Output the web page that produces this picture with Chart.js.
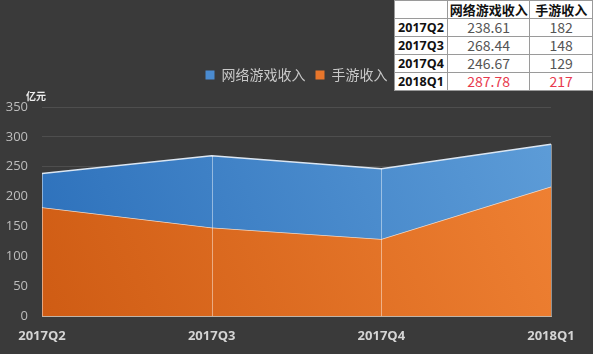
<!DOCTYPE html>
<html>
<head>
<meta charset="utf-8">
<script src="https://cdn.jsdelivr.net/npm/chart.js@4.4.0/dist/chart.umd.min.js"></script>
<style>
  body { margin: 0; background: #3a3a3a; }
  #wrap { position: relative; width: 593px; height: 354px; background: #3a3a3a; overflow: hidden; }
  #tbl { position: absolute; left: 394px; top: 0; border-collapse: collapse; background: #fff;
         font-family: "Noto Sans CJK SC", "Open Sans", sans-serif; }
  #tbl td { border: 1px solid #9a9a9a; height: 17px; padding: 0; text-align: center;
            font-size: 14px; color: #555; line-height: 17px; }
  #tbl tr:first-child td { font-weight: bold; color: #111; font-size: 13px; }
  #tbl td.lab { font-weight: bold; color: #111; font-size: 12.5px; font-family: "Open Sans", sans-serif; }
  #tbl tr.hl td.v { color: #e8394d; }
</style>
</head>
<body>
<div id="wrap">
  <canvas id="c" width="593" height="354"></canvas>
  <table id="tbl"></table>
</div>
<script>
const quarters = ["2017Q2", "2017Q3", "2017Q4", "2018Q1"];
const onlineGame = [238.61, 268.44, 246.67, 287.78];
const mobileGame = [182, 148, 129, 217];
const seriesNames = ["网络游戏收入", "手游收入"];
const tableOnline = ["238.61", "268.44", "246.67", "287.78"];
const tableMobile = ["182", "148", "129", "217"];
const unitLabel = "亿元";

// 右上角的数据表
const tbl = document.getElementById("tbl");
let html = `<tr><td style="width:52px"></td><td style="width:82px">${seriesNames[0]}</td><td style="width:62px">${seriesNames[1]}</td></tr>`;
quarters.forEach((q, i) => {
  html += `<tr class="${i === quarters.length - 1 ? "hl" : ""}"><td class="lab">${q}</td><td class="v">${tableOnline[i]}</td><td class="v">${tableMobile[i]}</td></tr>`;
});
tbl.innerHTML = html;

function grad(chart, c1, c2) {
  const a = chart.chartArea;
  if (!a) return c2;
  const g = chart.ctx.createLinearGradient(a.left, a.bottom, a.right, a.top);
  g.addColorStop(0, c1);
  g.addColorStop(1, c2);
  return g;
}

const extras = {
  id: "extras",
  beforeInit(chart) {
    const fit = chart.legend.fit;
    chart.legend.fit = function () {
      fit.bind(chart.legend)();
      this.height += 15;
    };
  },
  afterDatasetsDraw(chart) {
    const { ctx, scales: { x, y } } = chart;
    ctx.save();
    ctx.strokeStyle = "rgba(255,255,255,0.45)";
    ctx.lineWidth = 1;
    quarters.forEach((q, i) => {
      const px = Math.round(x.getPixelForValue(i)) + 0.5;
      ctx.beginPath();
      ctx.moveTo(px, y.getPixelForValue(onlineGame[i]));
      ctx.lineTo(px, y.getPixelForValue(0));
      ctx.stroke();
    });
    ctx.restore();
  },
  afterDraw(chart) {
    const { ctx, chartArea } = chart;
    ctx.save();
    ctx.fillStyle = "#eeeeee";
    ctx.font = "bold 10px 'Noto Sans CJK SC'";
    ctx.textAlign = "center";
    ctx.textBaseline = "middle";
    ctx.fillText(unitLabel, chartArea.left - 6, chartArea.top - 11);
    ctx.restore();
  }
};

new Chart(document.getElementById("c"), {
  type: "line",
  data: {
    labels: quarters,
    datasets: [{
      label: seriesNames[0],
      data: onlineGame,
      fill: "+1",
      backgroundColor: ctx => grad(ctx.chart, "#2b6fba", "#5e9dd8"),
      borderColor: "#dbe6f2",
      borderWidth: 1.5,
      pointRadius: 0,
      tension: 0
    }, {
      label: seriesNames[1],
      data: mobileGame,
      fill: "origin",
      backgroundColor: ctx => grad(ctx.chart, "#cf5c14", "#f08234"),
      borderColor: "#f2dccb",
      borderWidth: 1.5,
      pointRadius: 0,
      tension: 0
    }]
  },
  options: {
    responsive: false,
    animation: false,
    layout: { padding: { top: 58, left: 0, right: 0, bottom: 0 } },
    plugins: {
      legend: {
        position: "top",
        labels: {
          color: "#c8c8c8",
          font: { size: 14, family: "'Noto Sans CJK SC'" },
          boxWidth: 9,
          boxHeight: 9,
          padding: 10,
          generateLabels(chart) {
            const solid = ["#4a8bd0", "#e8762b"];
            return chart.data.datasets.map((d, i) => ({
              text: d.label,
              fillStyle: solid[i],
              strokeStyle: solid[i],
              lineWidth: 0,
              fontColor: "#c8c8c8",
              datasetIndex: i
            }));
          }
        }
      },
      tooltip: { enabled: false }
    },
    scales: {
      x: {
        offset: false,
        grid: { display: false, drawTicks: false },
        border: { display: true, color: "rgba(255,235,215,0.65)", width: 1 },
        ticks: {
          color: "#d4d4d4",
          font: { size: 13, weight: "bold", family: "'Open Sans'" },
          padding: 12,
          autoSkip: false,
          maxRotation: 0
        },
        afterFit: s => { s.height = 38; }
      },
      y: {
        min: 0,
        max: 350,
        grid: { color: "rgba(255,255,255,0.10)", drawTicks: false },
        border: { display: false },
        ticks: {
          stepSize: 50,
          color: "#bdbdbd",
          font: { size: 13, family: "'Open Sans'" },
          padding: 14
        },
        afterFit: s => { s.width = 42; }
      },
      y2: {
        position: "right",
        display: true,
        grid: { display: false, drawTicks: false },
        border: { display: false },
        ticks: { display: false },
        afterFit: s => { s.width = 42; }
      }
    }
  },
  plugins: [extras]
});
</script>
</body>
</html>
